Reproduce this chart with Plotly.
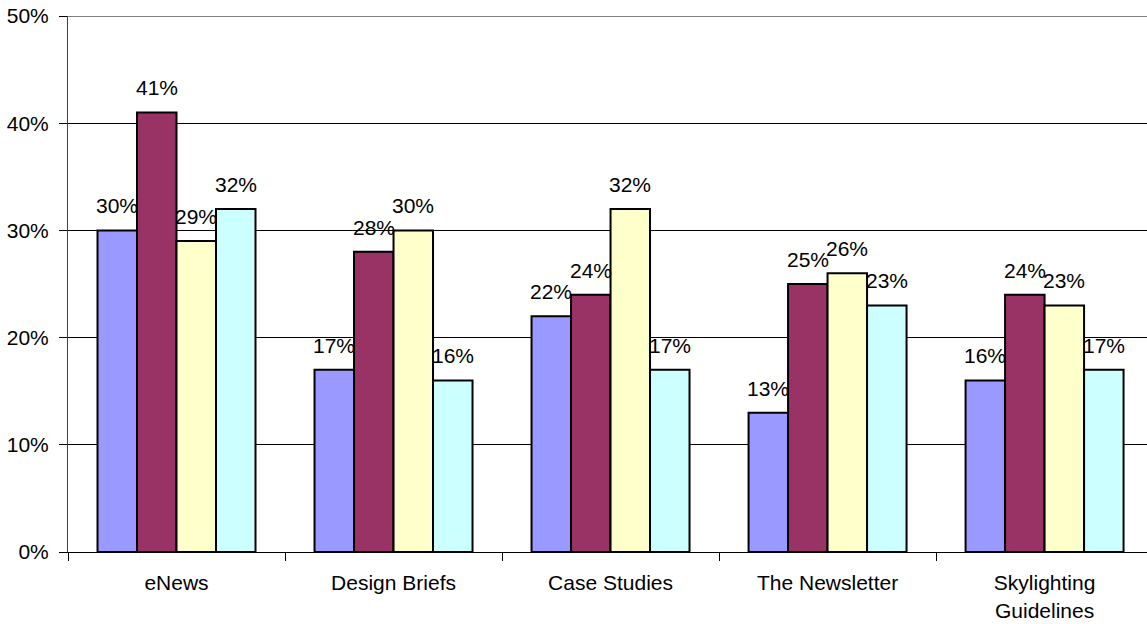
import plotly.graph_objects as go

categories = ["eNews", "Design Briefs", "Case Studies", "The Newsletter", "Skylighting<br>Guidelines"]
series_a = [30, 17, 22, 13, 16]
series_b = [41, 28, 24, 25, 24]
series_c = [29, 30, 32, 26, 23]
series_d = [32, 16, 17, 23, 17]
colors = ["#9999FF", "#993366", "#FFFFCC", "#CCFFFF"]
y_ticks = [0, 10, 20, 30, 40, 50]

FONT = "Liberation Sans, Arial"
BARGAP = 0.272
all_series = [series_a, series_b, series_c, series_d]
n = len(all_series)
bar_w = (1 - BARGAP) / n

fig = go.Figure()
for vals, col in zip(all_series, colors):
    fig.add_trace(go.Bar(
        x=categories, y=vals,
        marker=dict(color=col, line=dict(color="#000000", width=2)),
    ))

# value labels above each bar
for k, vals in enumerate(all_series):
    for i, v in enumerate(vals):
        fig.add_annotation(
            x=i + (k - (n - 1) / 2) * bar_w, y=v, xref="x", yref="y",
            text=f"{v}%", showarrow=False, yanchor="bottom", yshift=11,
            font=dict(family=FONT, size=21, color="#000000"),
        )

fig.update_layout(
    width=1147, height=624,
    margin=dict(l=68, r=0, t=16, b=72),
    paper_bgcolor="white", plot_bgcolor="white",
    barmode="group", bargap=BARGAP, bargroupgap=0,
    showlegend=False,
    font=dict(family=FONT, size=21, color="#000000"),
    xaxis=dict(
        range=[-0.5, 4.472],
        showgrid=False, showline=True, linecolor="#000000", linewidth=1,
        ticks="outside", tickson="boundaries", ticklen=8, tickcolor="#000000",
        tickfont=dict(size=21), ticklabelstandoff=12,
    ),
    yaxis=dict(
        range=[0, 50], tickvals=y_ticks, ticktext=[f"{v}%" for v in y_ticks],
        showgrid=True, gridcolor="#000000", gridwidth=1,
        showline=True, linecolor="#404040", linewidth=1,
        ticks="outside", ticklen=8, tickcolor="#000000",
        tickfont=dict(size=21), ticklabelstandoff=6, zeroline=False,
    ),
)
# gray frame line along the top of the plot area
fig.add_shape(type="line", xref="paper", yref="y", x0=0, x1=1, y0=50, y1=50,
              line=dict(color="#808080", width=2))

fig.write_html("out.html")
